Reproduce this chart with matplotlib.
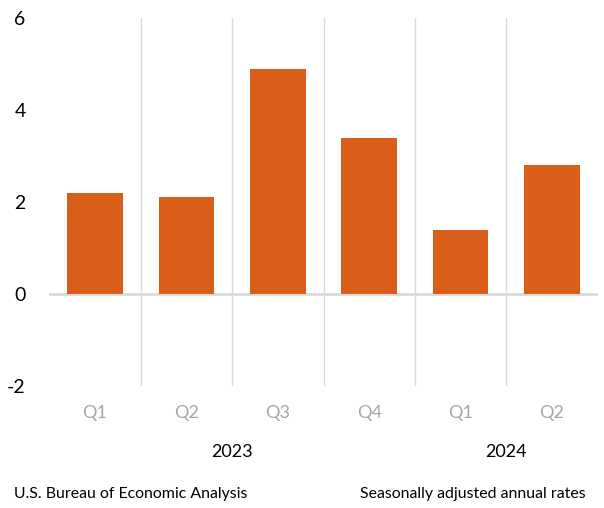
import matplotlib
matplotlib.use("Agg")
import matplotlib.pyplot as plt

# data
quarters = ["Q1", "Q2", "Q3", "Q4", "Q1", "Q2"]
growth = [2.2, 2.1, 4.9, 3.4, 1.4, 2.8]
years = ["2023", "2024"]
year_span = [(0, 3), (4, 5)]
yticks = [-2, 0, 2, 4, 6]

plt.rcParams["font.family"] = ["Lato", "DejaVu Sans"]

fig = plt.figure(figsize=(6.04, 5.08), dpi=100)
ax = fig.add_axes([49.3 / 604, 1 - 386 / 508, (597.7 - 49.3) / 604, (386 - 18) / 508])

x = list(range(len(growth)))
ax.bar(x, growth, width=0.61, color="#D95F18", zorder=3)

ax.set_xlim(-0.5, len(growth) - 0.5)
ax.set_ylim(-2, 6)

# separators between quarters
for b in range(1, len(growth)):
    ax.axvline(b - 0.5, color="#D9D9D9", lw=1, zorder=1)
ax.axhline(0, color="#D9D9D9", lw=2, zorder=2)

for s in ax.spines.values():
    s.set_visible(False)

ax.set_yticks(yticks)
ax.set_yticklabels([str(t) for t in yticks], fontsize=14, color="black")
ax.tick_params(axis="y", length=0, pad=17)
ax.set_xticks(x)
ax.set_xticklabels(quarters, fontsize=13, color="#A6A6A6")
ax.tick_params(axis="x", length=0, pad=14)

for yr, (a, b) in zip(years, year_span):
    ax.annotate(yr, xy=((a + b) / 2, 0), xycoords=("data", "figure pixels"),
                xytext=(0, 508 - 452), textcoords="offset pixels",
                ha="center", va="center", fontsize=13, color="black")

fig.text(14 / 604, 1 - 494 / 508, "U.S. Bureau of Economic Analysis",
         ha="left", va="center", fontsize=11.4, color="black")
fig.text(586 / 604, 1 - 494 / 508, "Seasonally adjusted annual rates",
         ha="right", va="center", fontsize=11.4, color="black")

fig.savefig("out.png", dpi=100)
